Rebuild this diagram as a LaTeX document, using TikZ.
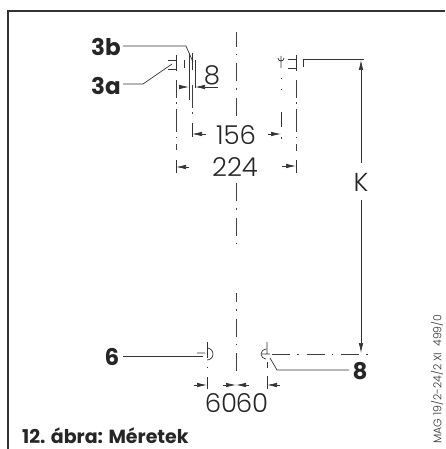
\documentclass[tikz,border=0pt]{standalone}
\usepackage{fontspec}
\setmainfont{Poppins}
\newfontfamily\thinfont{Poppins Light}
\usetikzlibrary{arrows.meta}
\begin{document}
\begin{tikzpicture}[x=1pt,y=-1pt,>={Latex[length=10pt,width=4.5pt]},
	center line/.style={dash pattern=on 18pt off 7pt on 1.5pt off 8pt,line width=.7pt,draw=black!75},
	side line/.style={dash pattern=on 23pt off 4.5pt on 1.5pt off 5.5pt,line width=.7pt,draw=black!75},
	leader/.style={line width=.7pt,draw=black!80},
	dimtext/.style={font=\thinfont\fontsize{26}{26}\selectfont,inner sep=0pt,text=black!85},
	marktext/.style={font=\fontsize{23}{23}\bfseries\selectfont,inner sep=0pt,text=black!85}]
	\useasboundingbox (0,0) rectangle (445,449);
	\draw[line width=1.3pt,draw=black!80] (8,449) -- (8,11) -- (445,11);
	% centre lines
	\draw[center line,dash phase=3pt] (236,32) -- (236,118);
	\draw[center line] (236,183) -- (236,243);
	\draw[center line,dash phase=9pt] (236,293) -- (236,378);
	\draw[side line,dash phase=5pt] (176,80) -- (176,150);
	\draw[side line,dash phase=5pt] (296,80) -- (296,151);
	\draw[side line] (192,85) -- (192,116);
	\draw[leader] (281,78) -- (281,79.5) (281,89) -- (281,90.5);
	\draw[leader] (207,342) -- (207,358) (207,366.5) -- (207,368);
	\draw[leader] (267,362) -- (267,368);
	\draw[center line] (272,354) -- (368,354);
	% bolts left
	\draw[leader] (168,60) -- (176,60) (168,69) -- (176,69) (176,55) -- (176,71);
	\draw[leader] (184,60) -- (184,68);
	\draw[leader] (189,53) -- (189,100) (192,53) -- (192,70) (195,60) -- (195,88);
	% bolts right
	\draw[leader] (288,59) -- (296,59) (288,68) -- (296,68) (296,55) -- (296,71);
	\draw[leader] (281,56) -- (281,68) (278,58) arc (180:360:3pt);
	\draw[leader] (281,112) -- (281,127) (281,137) -- (281,139);
	% bolts bottom
	\draw[leader] (207,348) arc (90:-90:6pt) (197,353) -- (205,353);
	\draw[leader] (262,354) -- (270,354) (267,342) -- (267,354) (266,349) arc (90:270:5pt);
	% leaders
	\node[marktext] (mark3b) at (106,47) {3b};
	\node[marktext] (mark3a) at (106,86) {3a};
	\node[marktext] (mark6) at (112,357) {6};
	\node[marktext] (mark8) at (360,371) {8};
	\coordinate (tip3b) at (193,62);
	\coordinate (tip3a) at (172,64);
	\coordinate (tip6) at (203,356);
	\coordinate (tip8) at (270,358);
	\draw[leader] (123,46) -- (186,46) -- (tip3b);
	\draw[leader] (123,84) -- (143,84) -- (tip3a);
	\draw[leader] (123,356) -- (tip6);
	\draw[leader] (349,370) -- (277,370) -- (tip8);
	% dimension 8
	\node[dimtext] (dim8) at (212,75) {8};
	\draw[->,leader] (179,87) -- (189,87);
	\draw[->,leader] (218,87) -- (195,87);
	% dimension 156
	\node[dimtext] (dim156) at (236,135) {156};
	\draw[leader] (192,123) -- (192,137);
	\draw[->,leader] (206,134) -- (192,134);
	\draw[->,leader] (268,134) -- (281,134);
	% dimension 224
	\node[dimtext] (dim224) at (235,167) {224};
	\draw[leader] (176,160) -- (176,173) (296,160) -- (296,173);
	\draw[->,leader] (189,167) -- (176,167);
	\draw[->,leader] (282,166) -- (296,166);
	% dimension K
	\draw[leader] (303,67) -- (303,59) -- (364,59);
	\node[dimtext] (dimK) at (361,182) {K};
	\coordinate (kup) at (361,60);
	\coordinate (kdown) at (361,353);
	\draw[->,leader] (361,163) -- (kup);
	\draw[->,leader] (361,200) -- (kdown);
	% dimension 60
	\node[dimtext] (dimleft) at (221,403) {60};
	\node[dimtext] (dimright) at (252,403) {60};
	\draw[leader] (207,377) -- (207,389) (267,376) -- (267,389);
	\draw[->,leader] (194,385) -- (207,385);
	\draw[->,leader] (223,385) -- (236,385);
	\draw[->,leader] (249,385) -- (236,385);
	\draw[->,leader] (280,385) -- (267,385);
	% captions
	\node[inner sep=0pt,anchor=west,font=\fontsize{19}{19}\bfseries\selectfont,text=black!85] (caption) at (22,436) {12. ábra: Méretek};
	\node[inner sep=0pt,rotate=90,anchor=west,font=\thinfont\fontsize{11}{11}\selectfont,text=black!80] (code) at (437,444) {MAG 19/2-24/2 XI\ \ 499/0};
\end{tikzpicture}
\end{document}
